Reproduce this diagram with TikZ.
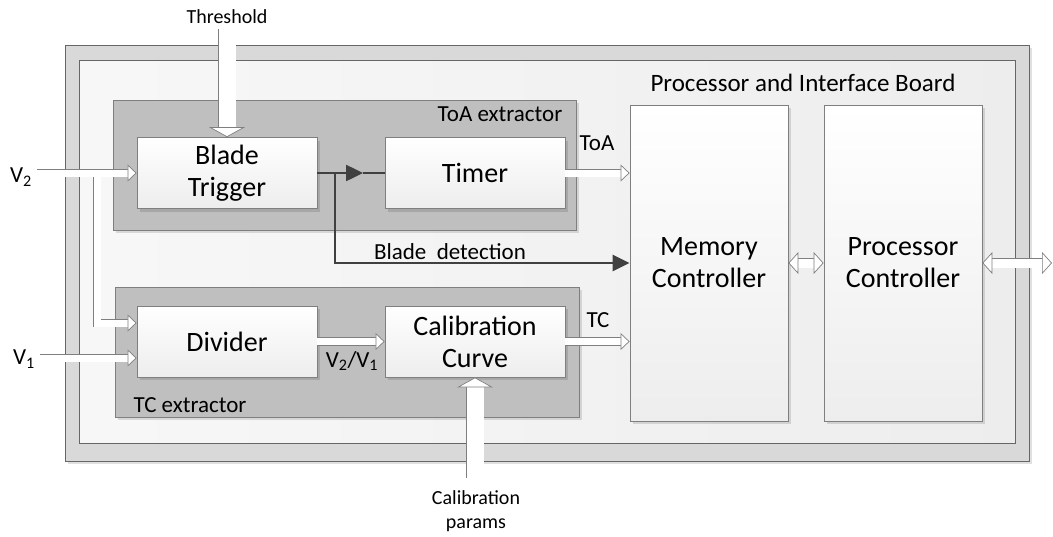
\documentclass[tikz,border=0pt]{standalone}
\usepackage{fontspec}
\setmainfont{Carlito}
\usetikzlibrary{arrows.meta, shadows, decorations.markings}
\definecolor{edgegray}{HTML}{7F7F7F}
\definecolor{framegray}{HTML}{D9D9D9}
\definecolor{extgray}{HTML}{BFBFBF}
\definecolor{wiredark}{HTML}{404040}
\tikzset{
  softshadow/.style={drop shadow={shadow xshift=3pt, shadow yshift=-3pt, fill=black, opacity=0.12}},
  frame/.style={draw=edgegray!80!black, line width=0.8pt, fill=framegray, softshadow},
  panel/.style={draw=edgegray!80!black, line width=0.8pt, left color=black!3, right color=black!7},
  extractor/.style={draw=edgegray, line width=0.8pt, fill=extgray, softshadow},
  block/.style={draw=edgegray, line width=0.8pt, top color=white, bottom color=black!7, softshadow,
    minimum width=180pt, minimum height=71pt, inner sep=0pt, align=center,
    font=\fontsize{28}{32}\selectfont},
  tall/.style={block, minimum width=158pt, minimum height=316pt},
  lbl/.style={inner sep=0pt, font=\fontsize{23}{27}\selectfont},
  boardlbl/.style={inner sep=0pt, font=\fontsize{25}{29}\selectfont},
  small/.style={inner sep=0pt, align=center, font=\fontsize{20}{24}\selectfont},
  % hollow arrows: double shaft, open head put on by markings
  headend/.style 2 args={postaction={decorate, decoration={markings,
    mark=at position 1 with {\pgfsetinnerlinewidth{0pt}%
      \arrow{Triangle[length=#1, width=#2, line width=0.7pt, color=edgegray, fill=white]}}}}},
  headstart/.style 2 args={postaction={decorate, decoration={markings,
    mark=at position 0 with {\pgfsetinnerlinewidth{0pt}%
      \arrowreversed{Triangle[length=#1, width=#2, line width=0.7pt, color=edgegray, fill=white]}}}}},
  pipe/.style={draw=edgegray, line width=0.7pt, double=white, double distance=7pt,
    shorten >=8.5pt, headend={9pt}{17pt}},
  widepipe/.style={draw=edgegray, line width=0.7pt, double=white, double distance=17pt,
    shorten >=9.5pt, headend={10pt}{36pt}},
  bipipe/.style={draw=edgegray, line width=0.7pt, double=white, double distance=9pt,
    shorten >=9.5pt, shorten <=9.5pt, headend={10pt}{22pt}, headstart={10pt}{22pt}},
  dark/.style={draw=wiredark, line width=2.5pt},
  darktip/.style={-{Triangle[length=17pt, width=16pt, fill=wiredark]}}
}

\begin{document}
\begin{tikzpicture}[x=1pt, y=-1pt]
\useasboundingbox (0,0) rectangle (1053,536);

% boards and extractors
\node[frame, minimum width=964pt, minimum height=416pt] (board) at (547,253) {};
\node[panel, minimum width=936pt, minimum height=383pt] (panelbox) at (547,251.5) {};
\node[extractor, minimum width=463pt, minimum height=130pt] (toaext) at (344.5,165) {};
\node[extractor, minimum width=464pt, minimum height=130pt] (tcext) at (347,352) {};

% blocks
\node[block] (trigger) at (227,173) {Blade\\Trigger};
\node[block] (timer) at (475,173) {Timer};
\node[block] (divider) at (227,341.5) {Divider};
\node[block] (calib) at (475,341.5) {Calibration\\Curve};
\node[tall] (memory) at (709,263) {Memory\\Controller};
\node[tall] (proc) at (903,263) {Processor\\Controller};

% labels
\node[lbl] (toaname) at (500,114) {ToA extractor};
\node[lbl] (tcname) at (190,405) {TC extractor};
\node[boardlbl] (boardname) at (803,83) {Processor and Interface Board};
\node[lbl] (toa) at (597,143) {ToA};
\node[lbl] (tc) at (598,320) {TC};
\node[lbl] (ratio) at (352,361) {V\textsubscript{2}/V\textsubscript{1}};
\node[lbl] (vtwo) at (21,177) {V\textsubscript{2}};
\node[lbl] (vone) at (24,359) {V\textsubscript{1}};
\node[lbl] (detect) at (450,252) {Blade\ \ detection};
\node[small] (thr) at (227,17) {Threshold};
\node[small] (params) at (476,511) {Calibration\\params};

% free ends
\coordinate (vtwoin) at (37,173);
\coordinate (vonein) at (40,358);
\coordinate (fork) at (97,173);
\coordinate (thrtop) at (227,29);
\coordinate (parbot) at (475,478);
\coordinate (ioend) at (1052,263);
\coordinate (split) at (335,173);
\coordinate (midtip) at (363,173);

% hollow signal arrows
\draw[pipe] (fork) |- (divider.west |- 0,323);
\draw[pipe] (vtwoin) -- (trigger.west);
\draw[pipe] (vonein) -- (divider.west |- vonein);
\draw[pipe] (divider.east) -- (calib.west);
\draw[pipe] (timer.east) -- (memory.west |- timer.east);
\draw[pipe] (calib.east) -- (memory.west |- calib.east);
\draw[widepipe] (thrtop) -- (trigger.north);
\draw[widepipe] (parbot) -- (calib.south);
\draw[bipipe] (memory.east) -- (proc.west);
\draw[bipipe] (proc.east) -- (ioend);

% blade detection
\draw[dark, darktip] (trigger.east) -- (midtip);
\draw[dark] (midtip) -- (timer.west);
\draw[dark, darktip] (split) |- (memory.west);
\end{tikzpicture}
\end{document}
